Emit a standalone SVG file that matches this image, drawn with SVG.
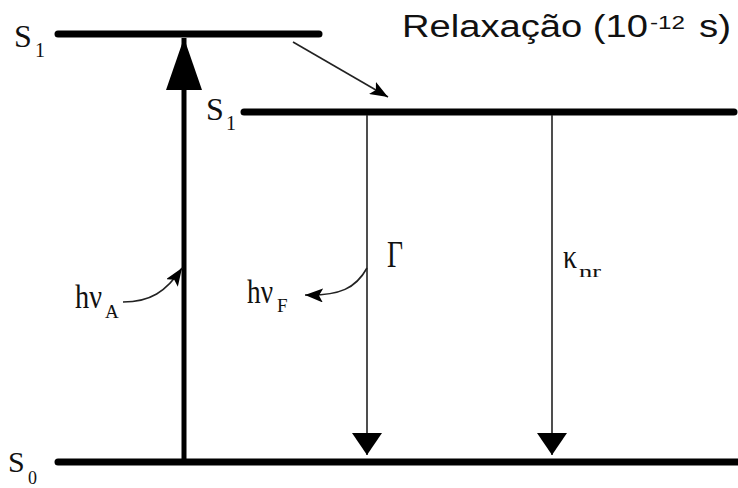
<svg xmlns="http://www.w3.org/2000/svg" width="738" height="488" viewBox="0 0 738 488">
<style>
.lvl{stroke:#000;stroke-width:7;stroke-linecap:round;fill:none}
.thin{stroke:#222;stroke-width:1.6;fill:none}
.lab{font-family:"Liberation Serif","Times New Roman",serif;fill:#111}
.sans{font-family:"Liberation Sans",Arial,sans-serif;fill:#111}
</style>
<defs>
<marker id="tri" markerUnits="userSpaceOnUse" viewBox="0 -15 22 30" refX="22" refY="0" markerWidth="22" markerHeight="30" orient="auto"><path d="M0,-15 L22,0 L0,15 z" fill="#000"/></marker>
<marker id="big" markerUnits="userSpaceOnUse" viewBox="0 -18 52 36" refX="52" refY="0" markerWidth="52" markerHeight="36" orient="auto"><path d="M0,-18 L52,0 L0,18 z" fill="#000"/></marker>
<marker id="sm" markerUnits="userSpaceOnUse" viewBox="0 -7 18 14" refX="18" refY="0" markerWidth="18" markerHeight="14" orient="auto"><path d="M0,-7 L18,0 L0,7 L4,0 z" fill="#000"/></marker>
</defs>
<g id="level-S1-top">
<line class="lvl" x1="58" y1="34" x2="319" y2="34"/>
<text class="lab" x="14" y="47" font-size="32">S<tspan x="35" y="57" font-size="20">1</tspan></text>
</g>
<g id="level-S1-relaxed">
<line class="lvl" x1="244" y1="112" x2="734" y2="112"/>
<text class="lab" x="206" y="120" font-size="32">S<tspan x="226" y="130" font-size="20">1</tspan></text>
</g>
<g id="level-S0">
<line class="lvl" x1="58" y1="462" x2="738" y2="462"/>
<text class="lab" x="8" y="472" font-size="30">S<tspan x="28" y="484" font-size="18">0</tspan></text>
</g>
<g id="relaxation-label">
<text class="sans" x="402" y="37" font-size="31" textLength="246" lengthAdjust="spacingAndGlyphs">Relaxação (10</text>
<text class="sans" x="650" y="29" font-size="19" textLength="35" lengthAdjust="spacingAndGlyphs">-12</text>
<text class="sans" x="699" y="37" font-size="31" textLength="32" lengthAdjust="spacingAndGlyphs">s)</text>
</g>
<g id="labels">
<text class="lab" x="75" y="308" font-size="34" textLength="27" lengthAdjust="spacingAndGlyphs">hν</text>
<text class="lab" x="105" y="318" font-size="19">A</text>
<text class="lab" x="247" y="303" font-size="34" textLength="26" lengthAdjust="spacingAndGlyphs">hν</text>
<text class="lab" x="277" y="312" font-size="19">F</text>
<text class="lab" x="387" y="267" font-size="38" textLength="16" lengthAdjust="spacingAndGlyphs">Γ</text>
<text class="lab" x="563" y="268" font-size="34" textLength="14" lengthAdjust="spacingAndGlyphs">κ</text>
<text class="lab" x="579" y="277" font-size="17" textLength="22" lengthAdjust="spacingAndGlyphs">nr</text>
</g>
<g id="connectors">
<line x1="184" y1="462" x2="184" y2="38" stroke="#000" stroke-width="5" marker-end="url(#big)"/>
<line class="thin" x1="293" y1="42" x2="388" y2="97" marker-end="url(#sm)"/>
<line class="thin" x1="367" y1="115" x2="367" y2="455" marker-end="url(#tri)"/>
<line class="thin" x1="552" y1="115" x2="552" y2="455" marker-end="url(#tri)"/>
<path class="thin" d="M123,302 C150,302 166,292 182,268" marker-end="url(#sm)"/>
<path class="thin" d="M367,268 C356,288 340,296 305,295" marker-end="url(#sm)"/>
</g>
</svg>
